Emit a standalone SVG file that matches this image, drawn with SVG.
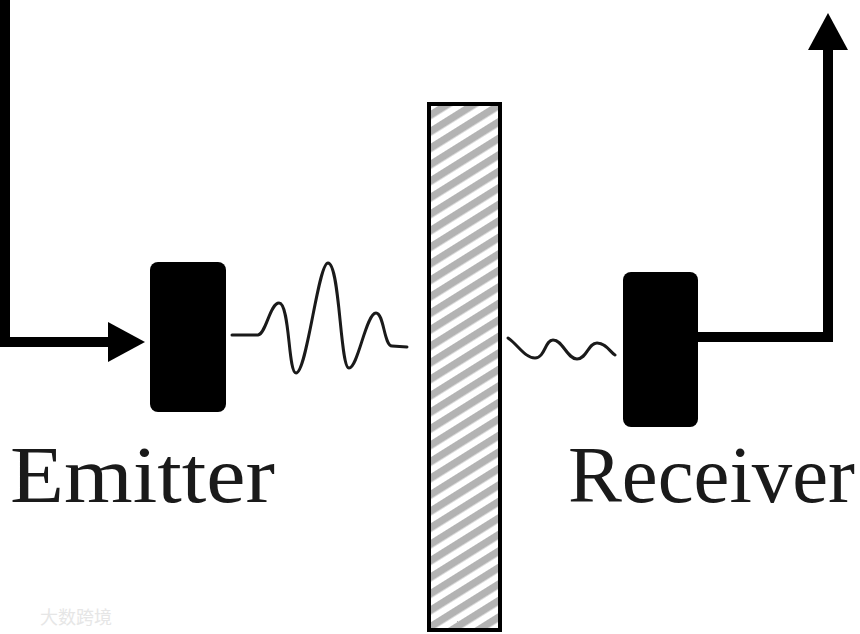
<svg xmlns="http://www.w3.org/2000/svg" width="860" height="634" viewBox="0 0 860 634">
  <style>
    .wire { fill: none; stroke: #000; stroke-width: 10; stroke-linejoin: miter; }
    .wave { fill: none; stroke: #1a1a1a; stroke-width: 3; stroke-linejoin: round; stroke-linecap: round; }
    .block { fill: #000; }
    .label { font-family: "Liberation Serif", "DejaVu Serif", serif; font-size: 80px; fill: #1a1a1a; }
    .wm { font-family: "Noto Sans CJK SC", sans-serif; font-size: 18px; fill: #e6e6e6; }
  </style>
  <defs>
    <marker id="arrow" viewBox="0 0 37 40" markerWidth="37" markerHeight="40" refX="0" refY="20" orient="auto" markerUnits="userSpaceOnUse">
      <path d="M0,0 L37,20 L0,40 Z" fill="#000"/>
    </marker>
    <pattern id="hatch" patternUnits="userSpaceOnUse" width="14" height="14" patternTransform="rotate(-32)">
      <rect x="0" y="0" width="14" height="14" fill="#fff"/>
      <rect x="0" y="0" width="14" height="7.5" fill="#b3b3b3"/>
    </pattern>
  </defs>
  <rect x="0" y="0" width="860" height="634" fill="#fff"/>

  <g id="connectors">
    <path class="wire" d="M5,-5 V342 H108" marker-end="url(#arrow)"/>
    <path class="wire" d="M698,337 H828 V50" marker-end="url(#arrow)"/>
  </g>

  <g id="emitter">
    <rect class="block" x="150" y="262" width="76" height="150" rx="8"/>
    <path class="wave" d="M232,335 L258,335 C266,334 270,303 279,303 C290,303 288,373 296,373 C307,373 318,263 328,263 C340,263 340,368 349,368 C358,368 366,313 376,313 C384,313 384,346 392,346 L407,347"/>
    <text class="label" x="10" y="502" textLength="265" lengthAdjust="spacingAndGlyphs">Emitter</text>
  </g>

  <g id="wall">
    <rect x="429" y="104" width="71" height="526" fill="url(#hatch)" stroke="#000" stroke-width="4"/>
  </g>

  <g id="receiver">
    <path class="wave" d="M508,338 C518,345 525,358 535,358 C545,358 545,340 553,340 C563,340 567,359 577,359 C587,359 588,343 597,343 C606,343 610,352 615,355"/>
    <rect class="block" x="623" y="272" width="75" height="155" rx="8"/>
    <text class="label" x="568" y="502" textLength="287" lengthAdjust="spacingAndGlyphs">Receiver</text>
  </g>

  <g id="watermark">
    <text class="wm" x="40" y="624">大数跨境</text>
  </g>
</svg>
